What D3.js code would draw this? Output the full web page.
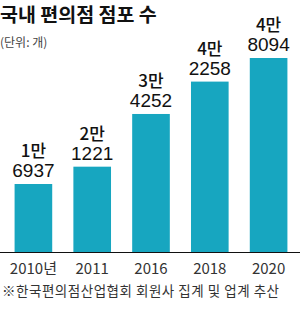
<!DOCTYPE html>
<html>
<head>
<meta charset="utf-8">
<script src="https://cdn.jsdelivr.net/npm/d3@7"></script>
<style>
  body { margin: 0; background: #fff; }
  svg { display: block; font-family: "Noto Sans CJK KR", "Noto Sans", sans-serif; }
</style>
</head>
<body>
<svg id="chart" width="300" height="311"></svg>
<script>
// data
const years = ['2010년', '2011', '2016', '2018', '2020'];
const stores = [16937, 21221, 34252, 42258, 48094];
const topLabels = ['1만', '2만', '3만', '4만', '4만'];
const bottomLabels = ['6937', '1221', '4252', '2258', '8094'];

const W = 300, H = 311;
const baseY = 252.5;
const svg = d3.select('#chart');

svg.append('text')
    .attr('x', 0).attr('y', 22)
    .attr('font-size', 19.5).attr('font-weight', 700)
    .attr('fill', '#111')
    .text('국내 편의점 점포 수');
svg.append('text')
    .attr('x', 0).attr('y', 47)
    .attr('font-size', 12)
    .attr('fill', '#444')
    .text('(단위: 개)');

const x = d3.scaleBand()
    .domain(years)
    .range([4, 298])
    .paddingInner(0.36)
    .paddingOuter(0.18);

const y = d3.scaleLinear()
    .domain([0, 48094])
    .range([baseY, 58]);

const bars = svg.selectAll('g.bar').data(years).enter().append('g').attr('class', 'bar');
bars.append('rect')
    .attr('x', d => x(d))
    .attr('width', x.bandwidth())
    .attr('y', (d, i) => y(stores[i]))
    .attr('height', (d, i) => baseY - y(stores[i]))
    .attr('fill', '#17a6c0');

bars.append('text')
    .attr('x', d => x(d) + x.bandwidth() / 2)
    .attr('y', (d, i) => y(stores[i]) - 7)
    .attr('text-anchor', 'middle')
    .attr('font-family', '"Liberation Sans Narrow", "Liberation Sans", sans-serif')
    .attr('font-size', 19)
    .attr('fill', '#111')
    .text((d, i) => bottomLabels[i]);
bars.append('text')
    .attr('x', d => x(d) + x.bandwidth() / 2)
    .attr('y', (d, i) => y(stores[i]) - 27)
    .attr('text-anchor', 'middle')
    .attr('font-size', 17)
    .attr('font-weight', 500)
    .attr('fill', '#111')
    .text((d, i) => topLabels[i]);

// baseline
svg.append('line')
    .attr('x1', 0).attr('x2', W)
    .attr('y1', baseY).attr('y2', baseY)
    .attr('stroke', '#111').attr('stroke-width', 1.2);

svg.selectAll('text.year').data(years).enter().append('text')
    .attr('class', 'year')
    .attr('x', d => x(d) + x.bandwidth() / 2)
    .attr('y', 274)
    .attr('text-anchor', 'middle')
    .attr('font-size', 15)
    .attr('fill', '#333')
    .text(d => d);

svg.append('text')
    .attr('x', 2).attr('y', 296)
    .attr('font-size', 13.5)
    .attr('fill', '#333')
    .attr('textLength', 277)
    .text('※한국편의점산업협회 회원사 집계 및 업계 추산');
</script>
</body>
</html>
